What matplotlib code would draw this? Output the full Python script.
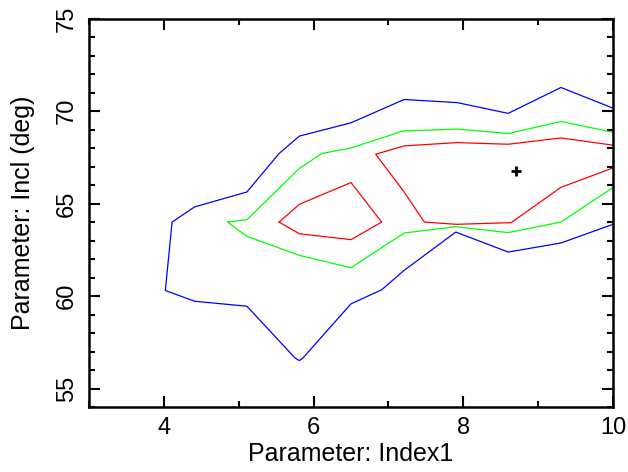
import matplotlib
matplotlib.use("Agg")
import matplotlib.pyplot as plt
from matplotlib.ticker import MultipleLocator

plt.rcParams['font.family'] = ['Liberation Sans', 'DejaVu Sans']

# Outer (blue) contour
blue_x = [10.0, 9.305, 8.60, 7.92, 7.21, 6.50, 5.81, 5.54, 5.11, 4.41, 4.11, 4.02,
          4.41, 5.11, 5.75, 5.81, 5.86, 6.50, 6.91, 7.21, 7.90, 8.60, 9.305, 10.0]
blue_y = [70.16, 71.28, 69.88, 70.46, 70.63, 69.37, 68.65, 67.71, 65.63, 64.82, 64.0, 60.30,
          59.72, 59.45, 56.66, 56.51, 56.66, 59.58, 60.34, 61.39, 63.46, 62.38, 62.87, 63.88]

# Middle (green) contour
green_x = [10.0, 9.305, 8.60, 7.92, 7.20, 6.50, 6.11, 5.81, 5.11, 4.85,
           5.11, 5.81, 6.50, 7.21, 7.90, 8.60, 9.305, 10.0]
green_y = [68.86, 69.44, 68.79, 69.03, 68.93, 68.01, 67.71, 66.90, 64.13, 64.0,
           63.23, 62.20, 61.53, 63.41, 63.75, 63.43, 64.0, 65.87]

# Inner (red) contours
red1_x = [5.54, 5.81, 6.50, 6.91, 6.50, 5.81, 5.54]
red1_y = [64.0, 64.96, 66.14, 64.0, 63.05, 63.37, 64.0]
red2_x = [10.0, 9.305, 8.60, 7.92, 7.21, 6.83, 7.21, 7.48, 7.91, 8.64, 9.305, 10.0]
red2_y = [68.16, 68.55, 68.21, 68.30, 68.12, 67.67, 65.63, 64.0, 63.88, 63.97, 65.88, 66.93]

# Best fit
best_x = [8.70]
best_y = [66.77]

xlim = (3, 10)
ylim = (54, 75)
xlabel = "Parameter: Index1"
ylabel = "Parameter: Incl (deg)"

fig = plt.figure(figsize=(6.28, 4.72), dpi=100)
ax = fig.add_axes([0.1417, 0.1377, 0.8344, 0.8227])

lw = 0.9
ax.plot(blue_x, blue_y, color=(0, 0, 1), lw=lw)
ax.plot(green_x, green_y, color=(0, 1, 0), lw=lw)
ax.plot(red1_x, red1_y, color=(1, 0, 0), lw=lw)
ax.plot(red2_x, red2_y, color=(1, 0, 0), lw=lw)
ax.plot(best_x, best_y, marker='+', color='black', ms=7, mew=2, ls='none')

ax.set_xlim(*xlim)
ax.set_ylim(*ylim)
ax.xaxis.set_major_locator(MultipleLocator(2))
ax.xaxis.set_minor_locator(MultipleLocator(1))
ax.yaxis.set_major_locator(MultipleLocator(5))
ax.yaxis.set_minor_locator(MultipleLocator(1))

for s in ax.spines.values():
    s.set_linewidth(1.8)

ax.tick_params(which='both', direction='in', top=True, right=True, width=1.5)
ax.tick_params(which='major', length=8, labelsize=17)
ax.tick_params(which='minor', length=4.5)
ax.tick_params(axis='x', which='major', pad=7)
ax.tick_params(axis='y', which='major', pad=8)
for lab in ax.get_yticklabels():
    lab.set_rotation(90)
    lab.set_va('center')

ax.set_xlabel(xlabel, fontsize=18, labelpad=2)
ax.set_ylabel(ylabel, fontsize=18, labelpad=15)

fig.savefig("out.png", dpi=100)
